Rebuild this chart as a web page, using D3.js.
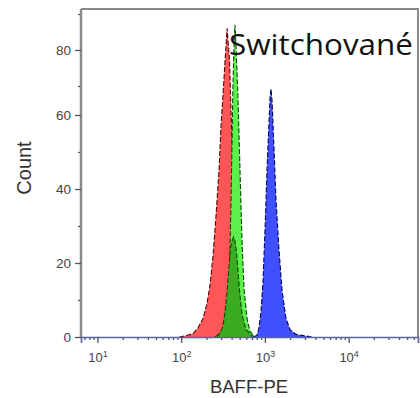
<!DOCTYPE html>
<html>
<head>
<meta charset="utf-8">
<script src="https://cdn.jsdelivr.net/npm/d3@7"></script>
<style>
  html, body { margin: 0; padding: 0; background: #fff; }
  svg { display: block; }
</style>
</head>
<body>
<div id="chart"></div>
<script>
// BAFF-PE channel values / counts, one list per histogram
const redX   = [95, 120, 140, 159, 182, 203, 221, 240, 261, 283, 299, 316, 334, 343, 353, 378, 394, 416, 452, 504, 578, 663];
const redY   = [0, 0.5, 1, 2.5, 5, 9, 14, 22, 33, 45, 57, 67, 77, 81, 86, 77, 61, 45, 23, 7, 1, 0];

const lightGreenX = [253, 291, 325, 353, 372, 383, 394, 405, 416, 427, 439, 452, 477, 504, 533, 563, 611, 664, 762];
const lightGreenY = [0, 1, 2.5, 6, 13, 24, 37, 53, 71, 81, 87, 81, 66, 45, 26, 13, 5, 1.5, 0];

const darkGreenX = [268, 291, 316, 334, 353, 372, 388, 405, 422, 439, 458, 477, 500, 533, 595, 701, 783];
const darkGreenY = [0, 1, 3, 7, 12, 19, 24, 26, 27, 26, 23, 18, 12, 6, 2, 0.3, 0];

const blueX = [741, 805, 850, 899, 949, 1003, 1059, 1119, 1151, 1183, 1216, 1284, 1357, 1474, 1600, 1786, 1994, 2352, 3012, 3652];
const blueY = [0, 0.5, 2.5, 7, 15, 29, 45, 58, 66, 69, 65, 51, 37, 23.5, 12.7, 5, 2, 0.7, 0.3, 0];

const xMajorTicks = [10, 100, 1000, 10000];
const xTickExp = ['1', '2', '3', '4'];
const yMajorTicks = [0, 20, 40, 60, 80];
const yMinorTicks = [10, 30, 50, 70, 90];

const width = 420, height = 398;
const plotLeft = 81, plotRight = 418, plotTop = 9, plotBottom = 337;

const svg = d3.select('#chart').append('svg')
    .attr('width', width)
    .attr('height', height);

// log scale for the fluorescence axis
const x = d3.scaleLog()
    .domain([6.35, 67450])
    .range([plotLeft, plotRight]);

// count axis of the original is a bit stretched above 60
const y = d3.scaleLinear()
    .domain([0, 60, 70, 90])
    .range([plotBottom, 115, 86, 14]);

const series = [
  {xs: redX, ys: redY, fill: '#ff5757', stroke: '#5a0000'},
  {xs: lightGreenX, ys: lightGreenY, fill: '#5bf04a', stroke: '#0a4a00'},
  {xs: darkGreenX, ys: darkGreenY, fill: '#3bab22', stroke: '#0a4a00'},
  {xs: blueX, ys: blueY, fill: '#4050ff', stroke: '#000060'}
];

const area = d3.area()
    .x(d => x(d[0]))
    .y0(y(0))
    .y1(d => y(d[1]));

const line = d3.line()
    .x(d => x(d[0]))
    .y(d => y(d[1]));

series.forEach(s => {
  const pts = s.xs.map((v, i) => [v, s.ys[i]]);
  svg.append('path')
      .attr('d', area(pts))
      .attr('fill', s.fill);
  svg.append('path')
      .attr('d', line(pts))
      .attr('fill', 'none')
      .attr('stroke', s.stroke)
      .attr('stroke-width', 1.1)
      .attr('stroke-dasharray', '5 2');
});

// frame: top and right
svg.append('path')
    .attr('d', `M${plotLeft},${plotTop}H${plotRight}V${plotBottom}`)
    .attr('fill', 'none')
    .attr('stroke', '#8a8a8a')
    .attr('stroke-width', 2);

// x axis: minor ticks
const xMinor = [];
[1, 10, 100, 1000, 10000].forEach(dec => {
  for (let k = 2; k <= 9; k++) {
    const v = dec * k;
    if (v >= x.domain()[0] && v <= x.domain()[1]) xMinor.push(v);
  }
});

const xAxisMinor = d3.axisBottom(x)
    .tickValues(xMinor)
    .tickSize(3)
    .tickFormat('');
const gxm = svg.append('g')
    .attr('transform', `translate(0,${plotBottom})`)
    .call(xAxisMinor);
gxm.select('.domain').remove();
gxm.selectAll('line').attr('stroke', '#555').attr('stroke-width', 1.3);

const xAxis = d3.axisBottom(x)
    .tickValues(xMajorTicks)
    .tickSize(6)
    .tickFormat('');
const gx = svg.append('g')
    .attr('transform', `translate(0,${plotBottom})`)
    .call(xAxis);
gx.select('.domain')
    .attr('stroke', '#5a63a0')
    .attr('stroke-width', 1.6);
gx.selectAll('line').attr('stroke', '#555').attr('stroke-width', 1.3);

const xLabels = gx.selectAll('.tick')
    .append('text')
    .attr('y', 25)
    .attr('fill', '#444')
    .attr('font-family', 'Liberation Sans, Arial, sans-serif')
    .attr('font-size', 13)
    .attr('text-anchor', 'middle');
xLabels.append('tspan').text('10');
xLabels.append('tspan')
    .attr('dy', -5)
    .attr('font-size', 9)
    .text((d, i) => xTickExp[i]);

// y axis
const yAxisMinor = d3.axisLeft(y)
    .tickValues(yMinorTicks)
    .tickSize(3)
    .tickFormat('');
const gym = svg.append('g')
    .attr('transform', `translate(${plotLeft},0)`)
    .call(yAxisMinor);
gym.select('.domain').remove();
gym.selectAll('line').attr('stroke', '#555').attr('stroke-width', 1.3);

const yAxis = d3.axisLeft(y)
    .tickValues(yMajorTicks)
    .tickSize(6)
    .tickPadding(4);
const gy = svg.append('g')
    .attr('transform', `translate(${plotLeft},0)`)
    .call(yAxis);
gy.select('.domain')
    .attr('d', `M0,${plotTop}V${plotBottom}`)
    .attr('stroke', '#8a8a8a')
    .attr('stroke-width', 2.5);
gy.selectAll('line').attr('stroke', '#555').attr('stroke-width', 1.3);
gy.selectAll('text')
    .attr('fill', '#444')
    .attr('font-family', 'Liberation Sans, Arial, sans-serif')
    .attr('font-size', 13.5);

// axis titles
svg.append('text')
    .attr('transform', `translate(31,168) rotate(-90)`)
    .attr('text-anchor', 'middle')
    .attr('fill', '#333')
    .attr('font-family', 'Liberation Sans, Arial, sans-serif')
    .attr('font-size', 20)
    .text('Count');

svg.append('text')
    .attr('x', 249)
    .attr('y', 393)
    .attr('text-anchor', 'middle')
    .attr('fill', '#333')
    .attr('font-family', 'Liberation Sans, Arial, sans-serif')
    .attr('font-size', 18.5)
    .text('BAFF-PE');

// overlay annotation
svg.append('text')
    .attr('x', 229)
    .attr('y', 55)
    .attr('fill', '#111')
    .attr('font-family', 'Open Sans, sans-serif')
    .attr('font-size', 30)
    .attr('textLength', 184)
    .attr('lengthAdjust', 'spacingAndGlyphs')
    .text('Switchované');
</script>
</body>
</html>
